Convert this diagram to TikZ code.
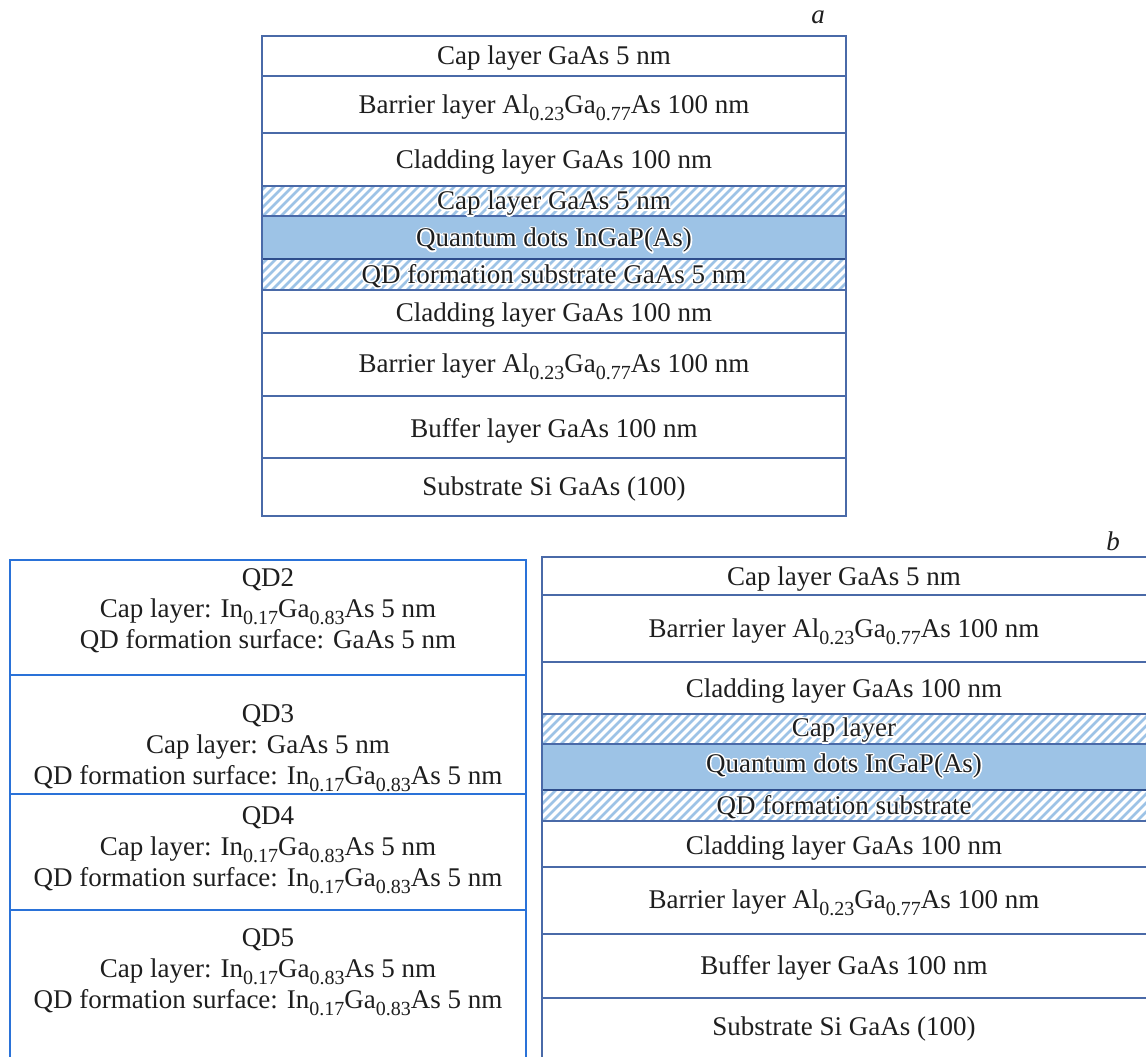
\documentclass[tikz,border=0pt]{standalone}
\usepackage{fontspec}
\setmainfont{Liberation Serif}
\definecolor{edge}{HTML}{4A6AA8}
\definecolor{edgeL}{HTML}{2A72D8}
\definecolor{qd}{HTML}{9DC3E6}
\definecolor{qdline}{HTML}{2F4E8C}
\definecolor{ink}{HTML}{1E1E1E}
% lowered, smaller index for alloy compositions
\newcommand\sub[1]{\raisebox{-6.5pt}{\fontsize{20}{20}\selectfont #1}}
% white outline behind text: a stroked copy, then the filled text on top
\newcommand\halo[1]{\leavevmode\rlap{\special{pdf:literal direct 1 Tr 3 w 1 j 1 1 1 RG}#1\special{pdf:literal direct 0 Tr}}#1}

\begin{document}
\begin{tikzpicture}[x=1pt,y=-1pt,
  txt/.style={font=\fontsize{27}{30.8}\selectfont, text=ink, inner sep=0pt, align=center, anchor=base},
  tag/.style={font=\fontsize{27}{30.8}\selectfont\itshape, text=ink, inner sep=0pt, anchor=base},
  edgeline/.style={draw=edge, line width=1.3pt},
  edgeleft/.style={draw=edgeL, line width=1.8pt},
  hatchline/.style={draw=qd, line width=2.6pt},
  qdfill/.style={fill=qd},
  qdbottom/.style={draw=qdline, line width=2.4pt}]
\useasboundingbox (0,0) rectangle (1146,1057);

% ---------- structure a ----------
% hatched cap and formation layers, QD layer
\begin{scope}
  \clip (262,186) rectangle (846,216);
  \foreach \k in {0,...,72} \draw[hatchline] (222+\k*9,221) -- ++(40,-40);
\end{scope}
\begin{scope}
  \clip (262,259) rectangle (846,290);
  \foreach \k in {0,...,72} \draw[hatchline] (222+\k*9,295) -- ++(40,-40);
\end{scope}
\fill[qdfill] (262,216) rectangle (846,259);
\foreach \yy in {76,133,186,216,290,333,396,458}
  \draw[edgeline] (262,\yy) -- (846,\yy);
\draw[qdbottom] (262,259) -- (846,259);
\draw[edgeline] (262,36) rectangle (846,516);

\node[tag] (tagA) at (818,24) {a};
\node[txt] (a1) at (554,64.5) {Cap layer GaAs 5 nm};
\node[txt] (a2) at (554,113.5) {Barrier layer Al\sub{0.23}Ga\sub{0.77}As 100 nm};
\node[txt] (a3) at (554,168.5) {Cladding layer GaAs 100 nm};
\node[txt] (a4) at (554,209.5) {\halo{Cap layer GaAs 5 nm}};
\node[txt] (a5) at (554,246.5) {\halo{Quantum dots InGaP(As)}};
\node[txt] (a6) at (554,283) {\halo{QD formation substrate GaAs 5 nm}};
\node[txt] (a7) at (554,321.5) {Cladding layer GaAs 100 nm};
\node[txt] (a8) at (554,372.5) {Barrier layer Al\sub{0.23}Ga\sub{0.77}As 100 nm};
\node[txt] (a9) at (554,437.5) {Buffer layer GaAs 100 nm};
\node[txt] (a10) at (554,495.5) {Substrate Si GaAs (100)};

% ---------- structure b ----------
\begin{scope}
  \clip (542,714) rectangle (1147,744);
  \foreach \k in {0,...,72} \draw[hatchline] (502+\k*9,749) -- ++(40,-40);
\end{scope}
\begin{scope}
  \clip (542,790) rectangle (1147,821);
  \foreach \k in {0,...,72} \draw[hatchline] (502+\k*9,826) -- ++(40,-40);
\end{scope}
\fill[qdfill] (542,744) rectangle (1147,790);
\foreach \yy in {595,662,714,744,821,867,934,998}
  \draw[edgeline] (542,\yy) -- (1147,\yy);
\draw[qdbottom] (542,790) -- (1147,790);
\draw[edgeline] (542,557) rectangle (1148,1059);

\node[tag] (tagB) at (1113,550) {b};
\node[txt] (b1) at (844,585.5) {Cap layer GaAs 5 nm};
\node[txt] (b2) at (844,637.5) {Barrier layer Al\sub{0.23}Ga\sub{0.77}As 100 nm};
\node[txt] (b3) at (844,697.5) {Cladding layer GaAs 100 nm};
\node[txt] (b4) at (844,736.5) {\halo{Cap layer}};
\node[txt] (b5) at (844,772) {\halo{Quantum dots InGaP(As)}};
\node[txt] (b6) at (844,814.5) {\halo{QD formation substrate}};
\node[txt] (b7) at (844,854.5) {Cladding layer GaAs 100 nm};
\node[txt] (b8) at (844,908.5) {Barrier layer Al\sub{0.23}Ga\sub{0.77}As 100 nm};
\node[txt] (b9) at (844,974.5) {Buffer layer GaAs 100 nm};
\node[txt] (b10) at (844,1035.5) {Substrate Si GaAs (100)};

% ---------- QD variants (anchored at the baseline of the last line) ----------
\foreach \yy in {675,794,910}
  \draw[edgeleft] (10,\yy) -- (526,\yy);
\draw[edgeleft] (10,560) rectangle (526,1059);

\node[txt] (q2) at (268,648.5) {QD2\\Cap layer: In\sub{0.17}Ga\sub{0.83}As 5 nm\\QD formation surface: GaAs 5 nm};
\node[txt] (q3) at (268,784.5) {QD3\\Cap layer: GaAs 5 nm\\QD formation surface: In\sub{0.17}Ga\sub{0.83}As 5 nm};
\node[txt] (q4) at (268,886.5) {QD4\\Cap layer: In\sub{0.17}Ga\sub{0.83}As 5 nm\\QD formation surface: In\sub{0.17}Ga\sub{0.83}As 5 nm};
\node[txt] (q5) at (268,1008.5) {QD5\\Cap layer: In\sub{0.17}Ga\sub{0.83}As 5 nm\\QD formation surface: In\sub{0.17}Ga\sub{0.83}As 5 nm};
\end{tikzpicture}
\end{document}
